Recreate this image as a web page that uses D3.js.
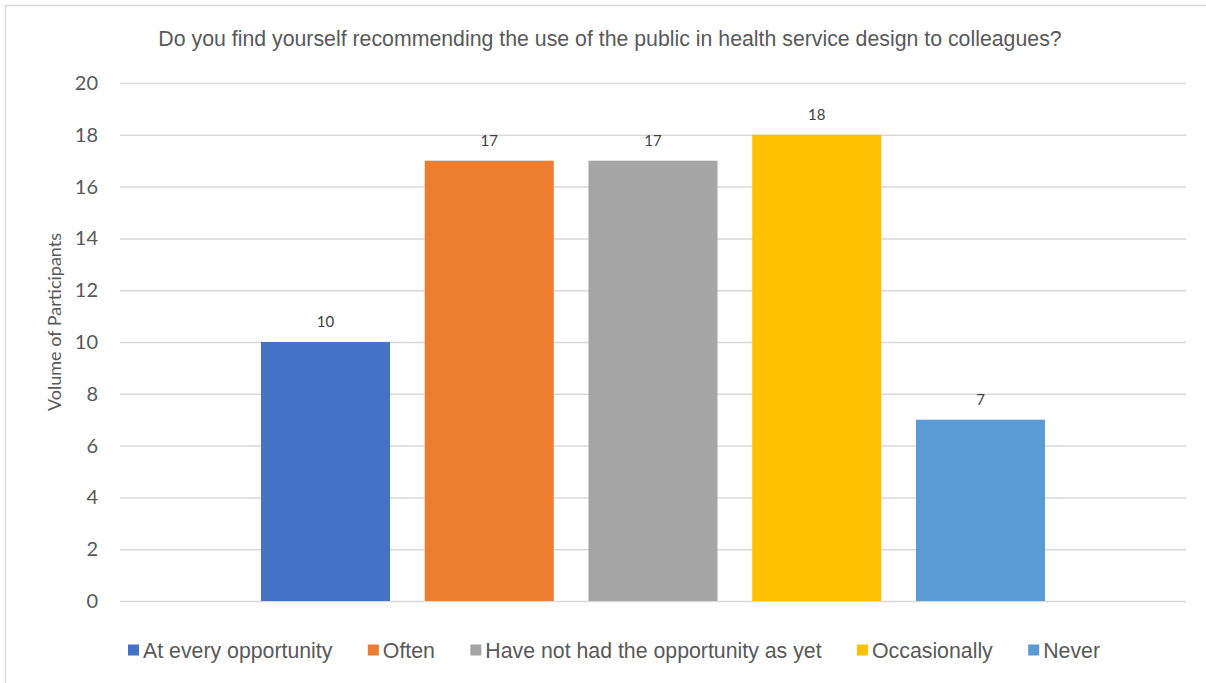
<!DOCTYPE html>
<html>
<head>
<meta charset="utf-8">
<script src="https://cdn.jsdelivr.net/npm/d3@7"></script>
<style>
  html, body { margin: 0; padding: 0; background: #fff; }
  svg { display: block; }
</style>
</head>
<body>
<svg id="chart" width="1206" height="683"></svg>
<script>
// Survey responses
const title = "Do you find yourself recommending the use of the public in health service design to colleagues?";
const seriesNames = ["At every opportunity", "Often", "Have not had the opportunity as yet", "Occasionally", "Never"];
const seriesValues = [10, 17, 17, 18, 7];
const seriesColors = ["#4472C4", "#ED7D31", "#A5A5A5", "#FFC000", "#5B9BD5"];
const yTicks = [0, 2, 4, 6, 8, 10, 12, 14, 16, 18, 20];
const yTitle = "Volume of Participants";

const svg = d3.select("#chart");
const W = 1206, H = 683;
const plot = { left: 120, right: 1186, top: 83, bottom: 601 };
const textColor = "#595959";
const arial = "'Liberation Sans', Arial, sans-serif";
const calib = "Lato, 'Open Sans', sans-serif";

// Chart frame
svg.append("rect")
  .attr("x", 5.5).attr("y", 5.5)
  .attr("width", W + 10).attr("height", H + 10)
  .attr("fill", "#fff").attr("stroke", "#D9D9D9").attr("stroke-width", 1.5);

const x = d3.scaleBand()
  .domain(seriesNames)
  .range([plot.left, plot.right])
  .paddingInner(0.212)
  .paddingOuter(0.861);

const y = d3.scaleLinear().domain([0, 20]).range([plot.bottom, plot.top]);

// Gridlines and tick labels
const yAxis = d3.axisLeft(y).tickValues(yTicks).tickSize(-(plot.right - plot.left)).tickPadding(22);
const gy = svg.append("g").attr("transform", `translate(${plot.left},0)`).call(yAxis);
gy.select(".domain").remove();
gy.selectAll(".tick line").attr("stroke", "#D9D9D9").attr("stroke-width", 1.5);
gy.selectAll(".tick text")
  .attr("fill", textColor)
  .style("font-family", calib)
  .style("font-size", "20px");

// Axis title
svg.append("text")
  .attr("transform", "translate(61, 322) rotate(-90)")
  .attr("text-anchor", "middle")
  .attr("fill", textColor)
  .style("font-family", calib)
  .style("font-size", "18px")
  .text(yTitle);

// Bars
const data = seriesNames.map((n, i) => ({ name: n, value: seriesValues[i], color: seriesColors[i] }));
svg.append("g").selectAll("rect").data(data).join("rect")
  .attr("x", d => x(d.name))
  .attr("width", x.bandwidth())
  .attr("y", d => y(d.value))
  .attr("height", d => y(0) - y(d.value))
  .attr("fill", d => d.color);

// Value labels
svg.append("g").selectAll("text").data(data).join("text")
  .attr("x", d => x(d.name) + x.bandwidth() / 2)
  .attr("y", d => y(d.value) - 15)
  .attr("text-anchor", "middle")
  .attr("fill", "#404040")
  .style("font-family", calib)
  .style("font-size", "15px")
  .text(d => d.value);

// Title
svg.append("text")
  .attr("x", 610).attr("y", 46)
  .attr("text-anchor", "middle")
  .attr("fill", textColor)
  .style("font-family", arial)
  .style("font-size", "21.3px")
  .text(title);

// Legend: items spread across a fixed span
const legend = svg.append("g");
const sw = 11, gapText = 4, legendY = 650;
const legendLeft = 128, legendRight = 1100;
const items = legend.selectAll("g").data(data).join("g");
items.append("rect")
  .attr("width", sw).attr("height", sw)
  .attr("y", legendY - sw / 2)
  .attr("fill", d => d.color);
items.append("text")
  .attr("x", sw + gapText)
  .attr("y", legendY + 7.5)
  .attr("fill", textColor)
  .style("font-family", arial)
  .style("font-size", "21.3px")
  .text(d => d.name);
const widths = [];
items.each(function () {
  widths.push(sw + gapText + d3.select(this).select("text").node().getComputedTextLength());
});
const gapItem = (legendRight - legendLeft - d3.sum(widths)) / (widths.length - 1);
let start = legendLeft;
items.attr("transform", (d, i) => {
  const t = `translate(${start},0)`;
  start += widths[i] + gapItem;
  return t;
});
</script>
</body>
</html>
